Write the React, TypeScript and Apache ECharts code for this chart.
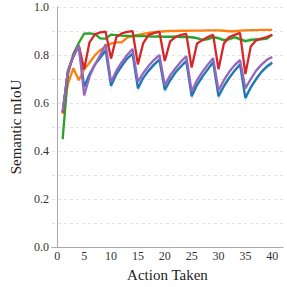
import React, { useEffect, useRef } from "react";
import * as echarts from "echarts";

const actions = Array.from({ length: 40 }, (_, i) => i + 1);

const blueVals = [0.56, 0.735, 0.795, 0.84, 0.668, 0.72, 0.76, 0.788, 0.82, 0.672,
  0.72, 0.755, 0.785, 0.806, 0.661, 0.705, 0.735, 0.76, 0.781, 0.655,
  0.695, 0.728, 0.752, 0.775, 0.628, 0.675, 0.71, 0.74, 0.77, 0.628,
  0.67, 0.705, 0.735, 0.761, 0.621, 0.665, 0.7, 0.73, 0.752, 0.768];
const orangeVals = [0.555, 0.681, 0.745, 0.695, 0.741, 0.768, 0.799, 0.821, 0.835, 0.848,
  0.853, 0.853, 0.872, 0.88, 0.884, 0.888, 0.892, 0.895, 0.897, 0.899,
  0.9, 0.9, 0.901, 0.901, 0.902, 0.902, 0.902, 0.903, 0.903, 0.903,
  0.901, 0.899, 0.899, 0.902, 0.903, 0.904, 0.904, 0.905, 0.905, 0.905];
const greenVals = [0.45, 0.72, 0.805, 0.85, 0.889, 0.89, 0.887, 0.869, 0.868, 0.885,
  0.883, 0.881, 0.88, 0.879, 0.88, 0.879, 0.878, 0.877, 0.878, 0.876,
  0.876, 0.877, 0.875, 0.876, 0.874, 0.87, 0.863, 0.866, 0.874, 0.87,
  0.862, 0.866, 0.874, 0.866, 0.858, 0.863, 0.865, 0.866, 0.868, 0.885];
const redVals = [0.56, 0.735, 0.795, 0.84, 0.741, 0.853, 0.886, 0.894, 0.897, 0.785,
  0.875, 0.89, 0.896, 0.9, 0.761, 0.85, 0.884, 0.891, 0.897, 0.775,
  0.857, 0.875, 0.884, 0.888, 0.748, 0.848, 0.862, 0.875, 0.884, 0.741,
  0.848, 0.875, 0.884, 0.892, 0.721, 0.835, 0.861, 0.868, 0.875, 0.884];
const purpleVals = [0.565, 0.735, 0.795, 0.84, 0.632, 0.71, 0.76, 0.8, 0.845, 0.688,
  0.735, 0.77, 0.8, 0.825, 0.688, 0.725, 0.755, 0.78, 0.8, 0.675,
  0.715, 0.745, 0.772, 0.795, 0.648, 0.695, 0.73, 0.76, 0.787, 0.652,
  0.695, 0.73, 0.758, 0.779, 0.661, 0.7, 0.735, 0.76, 0.78, 0.792];

// half-width of the shaded spread around each line
const blueSpread = [0.005, 0.005, 0.006, 0.006, 0.015, 0.01, 0.009, 0.008, 0.008, 0.015,
  0.011, 0.009, 0.008, 0.008, 0.016, 0.011, 0.009, 0.009, 0.008, 0.016,
  0.012, 0.01, 0.009, 0.009, 0.017, 0.012, 0.01, 0.009, 0.009, 0.017,
  0.012, 0.01, 0.009, 0.009, 0.017, 0.012, 0.01, 0.009, 0.009, 0.009];
const purpleSpread = [0.004, 0.004, 0.004, 0.005, 0.008, 0.006, 0.005, 0.005, 0.005, 0.008,
  0.006, 0.005, 0.005, 0.005, 0.009, 0.006, 0.005, 0.005, 0.005, 0.009,
  0.006, 0.005, 0.005, 0.005, 0.01, 0.007, 0.006, 0.005, 0.005, 0.01,
  0.007, 0.006, 0.005, 0.005, 0.01, 0.007, 0.006, 0.005, 0.005, 0.005];
const greenSpread = [0.004, 0.004, 0.004, 0.004, 0.004, 0.004, 0.004, 0.004, 0.004, 0.004,
  0.004, 0.004, 0.004, 0.004, 0.004, 0.004, 0.004, 0.004, 0.004, 0.004,
  0.004, 0.004, 0.004, 0.005, 0.005, 0.006, 0.007, 0.007, 0.007, 0.008,
  0.008, 0.008, 0.008, 0.009, 0.009, 0.009, 0.009, 0.008, 0.007, 0.005];

const seriesDefs = [
  { name: "blue", color: "#1f77b4", band: "rgba(31,119,180,0.22)", vals: blueVals, spread: blueSpread },
  { name: "orange", color: "#ff7f0e", band: "", vals: orangeVals, spread: null },
  { name: "green", color: "#2ca02c", band: "rgba(44,160,44,0.22)", vals: greenVals, spread: greenSpread },
  { name: "red", color: "#d62728", band: "", vals: redVals, spread: null },
  { name: "purple", color: "#9467bd", band: "rgba(148,103,189,0.22)", vals: purpleVals, spread: purpleSpread },
];

const FONT = "Liberation Serif";

export default function App() {
  const ref = useRef<HTMLDivElement>(null);
  useEffect(() => {
    document.body.style.margin = "0";
    const chart = echarts.init(ref.current!, null, { renderer: "svg" });
    const bandSeries: any[] = [];
    seriesDefs.forEach((s) => {
      if (!s.spread) return;
      const sp = s.spread;
      bandSeries.push({
        type: "custom",
        name: s.name + "-band",
        silent: true,
        z: 1,
        data: [0],
        renderItem: (_params: any, api: any) => {
          const upper = actions.map((a, i) => api.coord([a, s.vals[i] + sp[i]]));
          const lower = actions.map((a, i) => api.coord([a, s.vals[i] - sp[i]])).reverse();
          return {
            type: "polygon",
            shape: { points: upper.concat(lower) },
            style: { fill: s.band, stroke: "none" },
          };
        },
      });
    });
    chart.setOption({
      animation: false,
      grid: { left: 34, right: 4, top: 7, bottom: 30 },
      xAxis: {
        type: "value",
        min: -1,
        max: 42,
        interval: 1,
        name: "Action Taken",
        nameLocation: "middle",
        nameGap: 12,
        nameTextStyle: { fontFamily: FONT, fontSize: 15, color: "#222" },
        axisLine: { show: true, lineStyle: { color: "#aaa", width: 1 } },
        axisTick: { show: false },
        splitLine: { show: false },
        axisLabel: {
          fontFamily: FONT,
          fontSize: 12,
          color: "#333",
          margin: 3,
          formatter: (v: number) => (v >= 0 && v % 5 === 0 ? String(v) : ""),
        },
      },
      yAxis: {
        type: "value",
        min: 0,
        max: 1,
        interval: 0.1,
        name: "Semantic mIoU",
        nameLocation: "middle",
        nameGap: 27,
        nameTextStyle: { fontFamily: FONT, fontSize: 15, color: "#222" },
        axisLine: { show: true, lineStyle: { color: "#aaa", width: 1 } },
        axisTick: { show: false },
        splitLine: { show: true, lineStyle: { color: "#e3e3e3", type: [3, 3], width: 1 } },
        axisLabel: {
          fontFamily: FONT,
          fontSize: 12,
          color: "#333",
          margin: 3,
          formatter: (v: number) => {
            const r = Math.round(v * 10);
            return r % 2 === 0 ? (r / 10).toFixed(1) : "";
          },
        },
      },
      series: [
        ...bandSeries,
        ...seriesDefs.map((s) => ({
          type: "line",
          name: s.name,
          data: actions.map((a, i) => [a, s.vals[i]]),
          showSymbol: false,
          symbol: "none",
          lineStyle: { color: s.color, width: 2.3 },
          itemStyle: { color: s.color },
          z: 2,
        })),
      ],
    });
    return () => chart.dispose();
  }, []);
  return <div ref={ref} style={{ width: 287, height: 287 }} />;
}
